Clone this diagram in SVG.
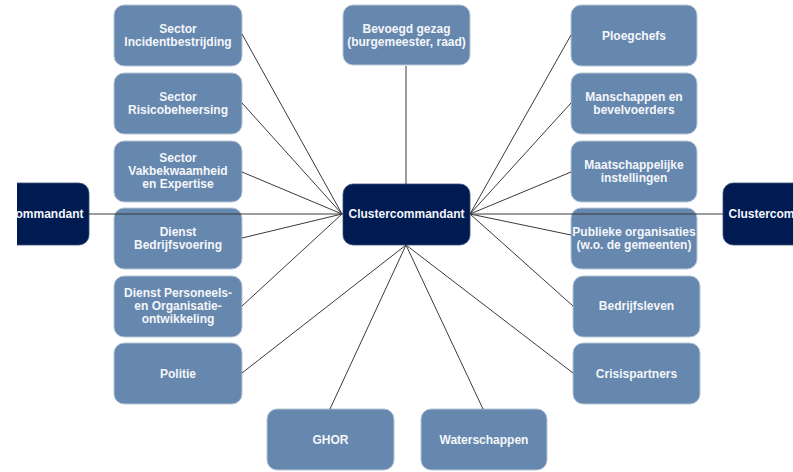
<svg xmlns="http://www.w3.org/2000/svg" width="793" height="472" viewBox="0 0 793 472">
<defs>
<style>
.box{fill:#6687ae;stroke:#b7c6d8;stroke-width:1}
.dark{fill:#001a52;stroke:#3a4f7a;stroke-width:0.8}
.t{font-family:"Liberation Sans",Arial,sans-serif;font-weight:bold;font-size:12px;fill:#f4f6fa;text-anchor:middle}
.c line{stroke:#3a3a3a;stroke-width:1}
</style>
<clipPath id="clipL"><rect x="17" y="0" width="200" height="472"/></clipPath>
</defs>
<rect width="793" height="472" fill="#fff"/>
<g id="n-left-commandant" clip-path="url(#clipL)">
<rect class="dark" x="-38" y="183" width="127" height="62" rx="10"/>
<text class="t" x="25.5" y="218">Clustercommandant</text>
</g>
<g id="n-right-commandant">
<rect class="dark" x="723" y="183" width="127" height="62" rx="10"/>
<text class="t" x="786.5" y="218">Clustercommandant</text>
</g>
<g id="n-center">
<rect class="dark" x="343" y="184" width="127" height="61" rx="10"/>
<text class="t" x="406.5" y="218">Clustercommandant</text>
</g>
<g id="n-bevoegd">
<rect class="box" x="343" y="5" width="127" height="60" rx="10"/>
<text class="t" x="406.5" y="33">Bevoegd gezag</text>
<text class="t" x="406.5" y="46">(burgemeester, raad)</text>
</g>
<g id="n-incident">
<rect class="box" x="114" y="5" width="128" height="61" rx="10"/>
<text class="t" x="178" y="33">Sector</text>
<text class="t" x="178" y="46">Incidentbestrijding</text>
</g>
<g id="n-risico">
<rect class="box" x="114" y="73" width="128" height="61" rx="10"/>
<text class="t" x="178" y="101">Sector</text>
<text class="t" x="178" y="114">Risicobeheersing</text>
</g>
<g id="n-vakbekwaamheid">
<rect class="box" x="114" y="141" width="128" height="61" rx="10"/>
<text class="t" x="178" y="162">Sector</text>
<text class="t" x="178" y="175">Vakbekwaamheid</text>
<text class="t" x="178" y="188">en Expertise</text>
</g>
<g id="n-bedrijfsvoering">
<rect class="box" x="114" y="208" width="128" height="61" rx="10"/>
<text class="t" x="178" y="236">Dienst</text>
<text class="t" x="178" y="249">Bedrijfsvoering</text>
</g>
<g id="n-personeel">
<rect class="box" x="114" y="276" width="128" height="61" rx="10"/>
<text class="t" x="178" y="297">Dienst Personeels-</text>
<text class="t" x="178" y="310">en Organisatie-</text>
<text class="t" x="178" y="323">ontwikkeling</text>
</g>
<g id="n-politie">
<rect class="box" x="114" y="343" width="128" height="61" rx="10"/>
<text class="t" x="178" y="378">Politie</text>
</g>
<g id="n-ploegchefs">
<rect class="box" x="571" y="5" width="126" height="61" rx="10"/>
<text class="t" x="634" y="40">Ploegchefs</text>
</g>
<g id="n-manschappen">
<rect class="box" x="571" y="73" width="126" height="61" rx="10"/>
<text class="t" x="634" y="101">Manschappen en</text>
<text class="t" x="634" y="114">bevelvoerders</text>
</g>
<g id="n-maatschappelijk">
<rect class="box" x="571" y="141" width="126" height="61" rx="10"/>
<text class="t" x="634" y="169">Maatschappelijke</text>
<text class="t" x="634" y="182">instellingen</text>
</g>
<g id="n-publiek">
<rect class="box" x="571" y="208" width="126" height="61" rx="10"/>
<text class="t" x="634" y="236">Publieke organisaties</text>
<text class="t" x="634" y="249">(w.o. de gemeenten)</text>
</g>
<g id="n-bedrijfsleven">
<rect class="box" x="573" y="276" width="127" height="61" rx="10"/>
<text class="t" x="636.5" y="310">Bedrijfsleven</text>
</g>
<g id="n-crisispartners">
<rect class="box" x="573" y="343" width="127" height="61" rx="10"/>
<text class="t" x="636.5" y="378">Crisispartners</text>
</g>
<g id="n-ghor">
<rect class="box" x="267" y="409" width="127" height="61" rx="10"/>
<text class="t" x="330.5" y="444">GHOR</text>
</g>
<g id="n-waterschappen">
<rect class="box" x="421" y="409" width="126" height="61" rx="10"/>
<text class="t" x="484" y="444">Waterschappen</text>
</g>
<g class="c" id="connectors">
<line x1="89" y1="214" x2="343" y2="214"/>
<line x1="470" y1="214" x2="723" y2="214"/>
<line x1="406" y1="66" x2="406" y2="184"/>
<line x1="242" y1="34" x2="342" y2="214"/>
<line x1="242" y1="103" x2="342" y2="214"/>
<line x1="242" y1="172" x2="342" y2="214"/>
<line x1="242" y1="238" x2="342" y2="214"/>
<line x1="242" y1="306" x2="342" y2="214"/>
<line x1="242" y1="373" x2="406" y2="245"/>
<line x1="571" y1="35" x2="470" y2="214"/>
<line x1="571" y1="103" x2="470" y2="214"/>
<line x1="571" y1="172" x2="470" y2="214"/>
<line x1="571" y1="235" x2="470" y2="214"/>
<line x1="573" y1="306" x2="470" y2="214"/>
<line x1="573" y1="373" x2="406" y2="245"/>
<line x1="330" y1="409" x2="406" y2="245"/>
<line x1="483" y1="409" x2="406" y2="245"/>
</g>
</svg>
